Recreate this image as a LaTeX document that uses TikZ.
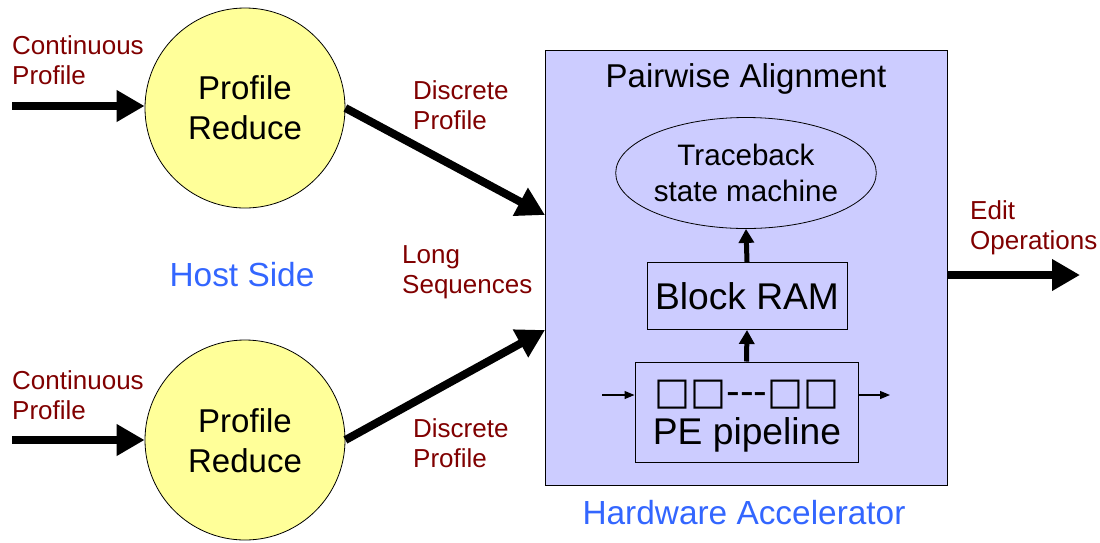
\documentclass[tikz,border=0pt]{standalone}
\usepackage{fontspec}
\setmainfont{Liberation Sans}
\newfontfamily\symbfont{DejaVu Sans}
\usetikzlibrary{arrows.meta,shapes.geometric}
\definecolor{lav}{RGB}{204,204,255}
\definecolor{pale}{RGB}{255,255,153}
\definecolor{lbl}{RGB}{128,0,0}
\definecolor{blu}{RGB}{51,102,255}
\tikzset{
  lab/.style={text=lbl,font=\fontsize{26}{30}\selectfont,align=left,anchor=west,inner sep=0},
  big/.style={font=\fontsize{33}{40}\selectfont,align=center,inner sep=0},
  blabel/.style={text=blu,font=\fontsize{33.4}{38}\selectfont,inner sep=0},
  proc/.style={circle,draw=black,line width=0.8pt,fill=pale,minimum size=200pt,inner sep=0},
  fat/.style={line width=8pt,-{Triangle[length=28pt,width=30pt]}},
  mid/.style={line width=5pt,-{Triangle[length=14pt,width=15pt]}},
  thin/.style={line width=1.2pt,-{Triangle[length=10pt,width=8pt]}},
  inbox/.style={draw=black,line width=1pt,fill=lav,inner sep=0}
}
\begin{document}
\begin{tikzpicture}[x=1pt,y=-1pt]
\useasboundingbox (0,0) rectangle (1100,542);
% host side
\node[proc] (c1) at (245,108) {};
\node[big] at (245,108) {Profile\\Reduce};
\node[proc] (c2) at (245,440) {};
\node[big] at (245,441) {Profile\\Reduce};
\coordinate (s1) at (12,106);
\coordinate (s2) at (12,440);
\draw[fat] (s1) -- (c1.west |- s1);
\draw[fat] (s2) -- (c2.west |- s2);
\node[lab] (l1) at (12,60) {Continuous\\Profile};
\node[lab] (l2) at (12,395) {Continuous\\Profile};
\node[blabel] (host) at (242,275) {Host Side};
% accelerator
\node[inbox,line width=1pt,minimum width=402pt,minimum height=435pt,anchor=north west] (box) at (545,50) {};
\node[big] (pa) at (746,79) {Pairwise Alignment};
\node[ellipse,draw=black,line width=0.8pt,minimum width=246pt,minimum height=111pt,inner sep=0,font=\fontsize{29.6}{36}\selectfont,align=center] (tb) at (746,173) {Traceback\\state machine};
\node[inbox,minimum width=200pt,minimum height=67pt,font=\fontsize{37.2}{40}\selectfont] (ram) at (747,296) {Block RAM};
\node[inbox,minimum width=223pt,minimum height=100pt] (pe) at (746.5,412) {};
\node[inner sep=0,font=\symbfont\fontsize{38}{40}\selectfont] (sq) at (747,395) {□□-{}-{}-□□};
\node[inner sep=0,font=\fontsize{37.2}{40}\selectfont] (pet) at (747,435) {PE pipeline};
\coordinate (pin) at (602,395);
\coordinate (pout) at (890,395);
\draw[thin] (pin) -- (pe.west |- pin);
\draw[thin] (pe.east |- pout) -- (pout);
\draw[mid] (pe.north) -- (ram.south);
\draw[mid] (ram.north) -- (tb.south);
% connectors
\coordinate (a1) at (545,215);
\coordinate (a2) at (545,330);
\draw[fat] (c1.east) -- (a1);
\draw[fat] (c2.east) -- (a2);
\coordinate (o1) at (1080,275);
\draw[fat] (box.east |- o1) -- (o1);
\node[lab] (d1) at (413,105) {Discrete\\Profile};
\node[lab] (d2) at (413,443) {Discrete\\Profile};
\node[lab] (ls) at (402,272) {Long\\Sequences};
\node[lab] (eo) at (970,228) {Edit\\Operations};
\node[blabel] (hw) at (744,513) {Hardware Accelerator};
\end{tikzpicture}
\end{document}
